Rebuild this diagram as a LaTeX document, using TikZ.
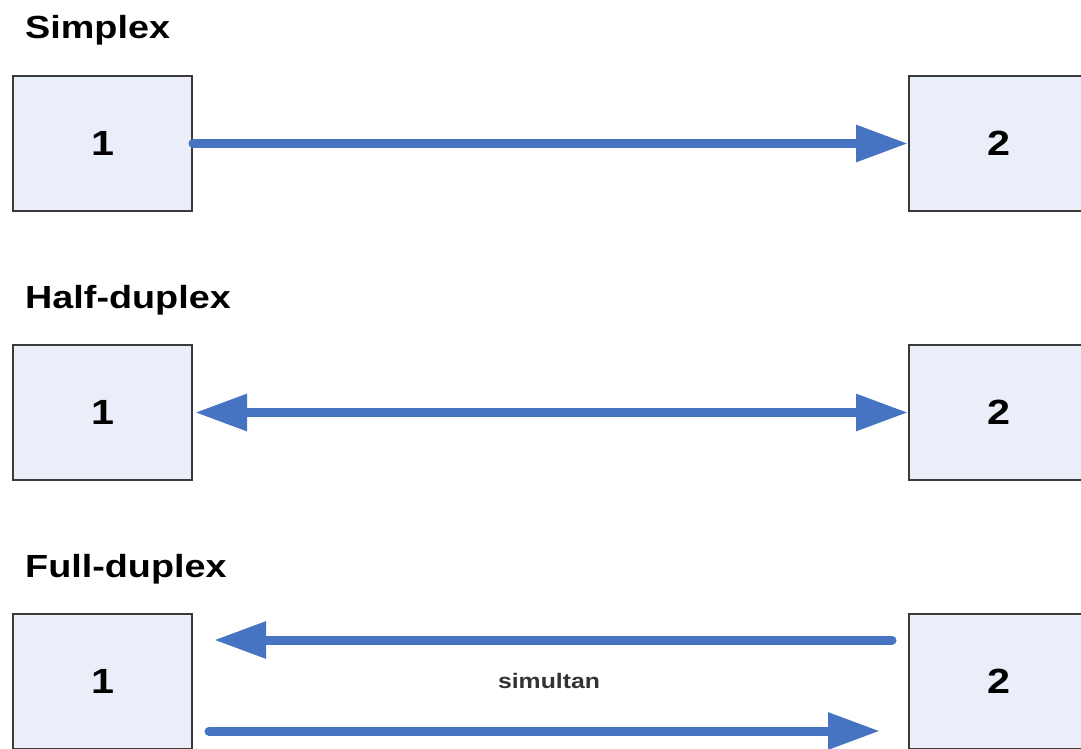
\documentclass[tikz,border=0pt]{standalone}
\usepackage{fontspec}
\setmainfont{Liberation Sans}[FakeStretch=1.18]
\usepackage{tikz}
\usetikzlibrary{arrows.meta,positioning}
\usepackage{xcolor}
\definecolor{linkblue}{HTML}{4673C2}
\definecolor{boxfill}{HTML}{E9EEF8}
\definecolor{boxedge}{HTML}{3A3A3A}
\tikzset{
  station/.style = {draw=boxedge, line width=2pt, fill=boxfill, rectangle,
                    minimum width=179pt, minimum height=135pt, inner sep=0pt,
                    font=\fontsize{35}{35}\selectfont\bfseries},
  heading/.style = {anchor=base west, inner sep=0pt,
                    font=\fontsize{32}{32}\selectfont\bfseries},
  link/.style    = {linkblue, line width=9pt, line cap=round},
}

\begin{document}
\begin{tikzpicture}[x=1pt, y=-1pt]
\clip (0,0) rectangle (1081,749);
\fill[white] (0,0) rectangle (1081,749);
% ---- simplex ----
\node[heading] (tsim) at (25,39) {Simplex};
\node[station, anchor=north west] (s1) at (12,75) {1};
\node[station, anchor=north west] (s2) at (908,75) {2};
\draw[link, -{Triangle[length=52pt, width=35pt]}] (s1.east) -- (s2.west);
% ---- half-duplex ----
\node[heading] (thalf) at (25,308) {Half-duplex};
\node[station, anchor=north west] (h1) at (12,344) {1};
\node[station, anchor=north west] (h2) at (908,344) {2};
\draw[link, {Triangle[length=52pt, width=35pt]}-{Triangle[length=52pt, width=35pt]}]
     ([xshift=2pt]h1.east) -- (h2.west);
% ---- full-duplex ----
\node[heading] (tfull) at (25,577) {Full-duplex};
\node[station, anchor=north west] (f1) at (12,613) {1};
\node[station, anchor=north west] (f2) at (908,613) {2};
\coordinate (backA) at ([xshift=-16pt, yshift=-27pt]f2.north west);
\coordinate (backB) at ([xshift=21pt, yshift=-27pt]f1.north east);
\coordinate (fwdA)  at ([xshift=16pt, yshift=-118pt]f1.north east);
\coordinate (fwdB)  at ([xshift=-28pt, yshift=-118pt]f2.north west);
\draw[link, -{Triangle[length=52pt, width=35pt]}] (backA) -- (backB);
\draw[link, -{Triangle[length=52pt, width=35pt]}] (fwdA) -- (fwdB);
\node[font=\fontsize{21}{21}\selectfont\bfseries, text=black!80, anchor=base]
     (simul) at (549,688) {simultan};
\end{tikzpicture}
\end{document}
